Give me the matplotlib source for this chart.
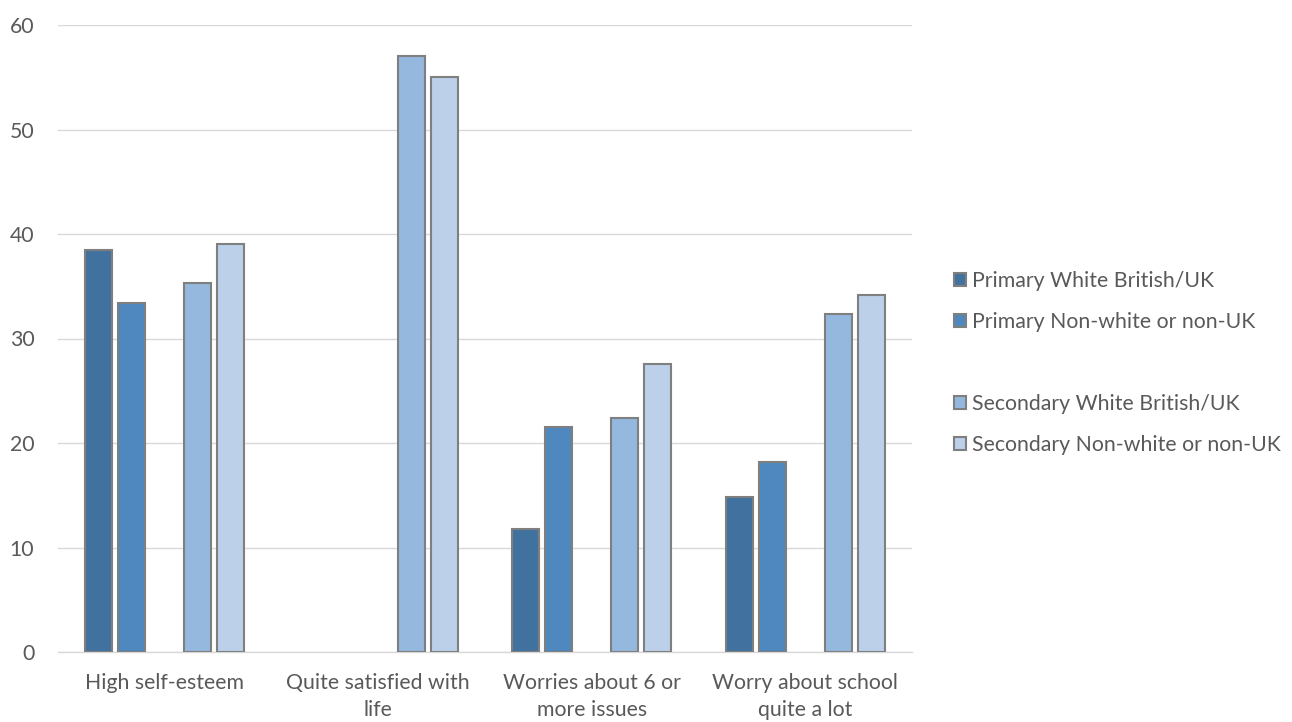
import matplotlib
matplotlib.use("Agg")
import matplotlib.pyplot as plt
from matplotlib.patches import Patch
import numpy as np

categories = ["High self-esteem", "Quite satisfied with\nlife", "Worries about 6 or\nmore issues", "Worry about school\nquite a lot"]
series_names = ["Primary White British/UK", "Primary Non-white or non-UK", " ", "Secondary White British/UK", "Secondary Non-white or non-UK"]
primary_white = [38.5, np.nan, 11.8, 14.8]
primary_nonwhite = [33.4, np.nan, 21.5, 18.2]
blank_series = [np.nan, np.nan, np.nan, np.nan]
secondary_white = [35.3, 57.0, 22.4, 32.3]
secondary_nonwhite = [39.0, 55.0, 27.6, 34.2]
yticks = [0, 10, 20, 30, 40, 50, 60]

series = [primary_white, primary_nonwhite, blank_series, secondary_white, secondary_nonwhite]
colors = ["#41729F", "#4E88BE", "none", "#95B8DF", "#BCD0EA"]

plt.rcParams['font.family'] = ['Lato', 'DejaVu Sans']
txt = "#595959"
fs = 15.3

fig = plt.figure(figsize=(12.92, 7.22), dpi=100)
ax = fig.add_axes([58/1292, 1-652/722, (912-58)/1292, (652-25)/722])

x = np.arange(len(categories))
step = 0.1546
width = 0.127
for i, (vals, c) in enumerate(zip(series, colors)):
    if c == "none":
        continue
    ax.bar(x + (i-2)*step, vals, width, color=c, edgecolor="#7F7F7F", linewidth=1.5, zorder=3)

ax.set_xlim(-0.5, len(categories)-0.5)
ax.set_ylim(0, 60)
ax.set_yticks(yticks)
ax.set_xticks(x)
ax.set_xticklabels(categories, fontsize=fs, color=txt, linespacing=1.45)
ax.tick_params(axis='y', length=0, pad=17, labelsize=fs, labelcolor=txt)
ax.tick_params(axis='x', length=0, pad=15)
ax.grid(axis='y', color="#D9D9D9", linewidth=1, zorder=0)
for s in ["top", "left", "right"]:
    ax.spines[s].set_visible(False)
ax.spines["bottom"].set_color("#D9D9D9")
ax.spines["bottom"].set_linewidth(1)

handles = []
for name, c in zip(series_names, colors):
    if c == "none":
        handles.append(Patch(facecolor="none", edgecolor="none"))
    else:
        handles.append(Patch(facecolor=c, edgecolor="#7F7F7F", linewidth=1.5))
leg = fig.legend(handles, series_names, loc="center left", bbox_to_anchor=(935/1292, 1-363/722),
                 frameon=False, fontsize=fs, labelspacing=0.98, handlelength=0.55, handleheight=0.55,
                 handletextpad=0.3, labelcolor=txt)

fig.savefig("out.png", dpi=100)
